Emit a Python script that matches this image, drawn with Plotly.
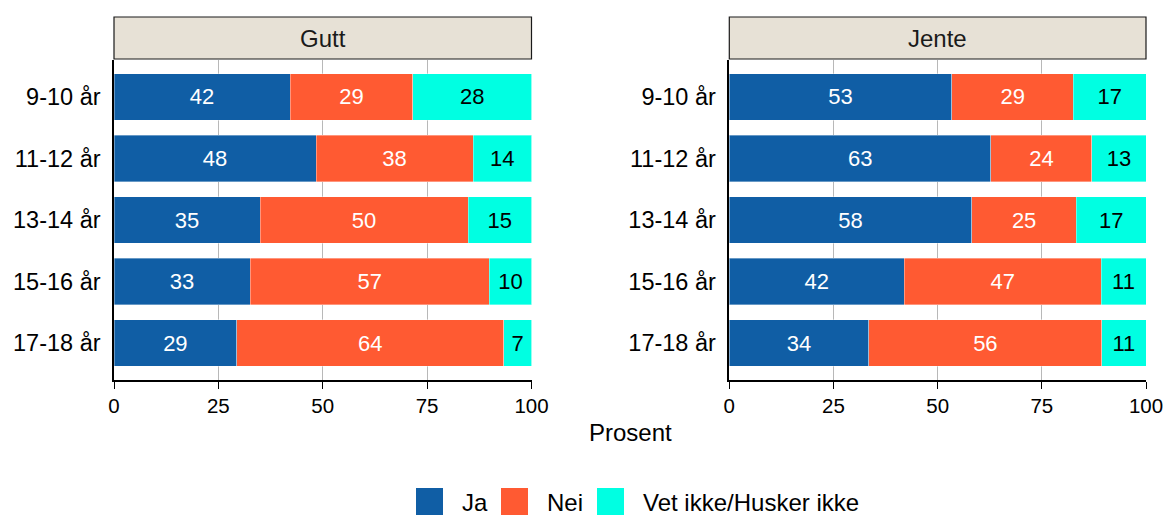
import plotly.graph_objects as go

W, H = 1167, 516

ages = ["9-10 år", "11-12 år", "13-14 år", "15-16 år", "17-18 år"]
answers = ["Ja", "Nei", "Vet ikke/Husker ikke"]
COLORS = {"Ja": "#105EA5", "Nei": "#FF5A32", "Vet ikke/Husker ikke": "#00FFE2"}
TEXT_COLORS = {"Ja": "white", "Nei": "white", "Vet ikke/Husker ikke": "black"}

gutt_ja = [42.2, 48.4, 35.0, 32.6, 29.4]
gutt_nei = [29.4, 37.6, 49.8, 57.3, 64.0]
gutt_vet = [28.4, 14.0, 15.2, 10.1, 6.6]

jente_ja = [53.4, 62.8, 58.2, 42.0, 33.5]
jente_nei = [29.2, 24.2, 25.1, 47.2, 55.9]
jente_vet = [17.4, 13.0, 16.7, 10.8, 10.6]

panels = [
    ("Gutt", [gutt_ja, gutt_nei, gutt_vet], "x", "y", (114 / W, 531.5 / W)),
    ("Jente", [jente_ja, jente_nei, jente_vet], "x2", "y2", (729.3 / W, 1146 / W)),
]

FONT = "Liberation Sans, Arial, sans-serif"
y_dom = (1 - 380 / H, 1 - 60 / H)

fig = go.Figure()
shapes = []
annotations = []

for title, series, xa, ya, dom in panels:
    for name, vals in zip(answers, series):
        fig.add_trace(go.Bar(
            x=vals, y=ages, orientation="h", name=name,
            xaxis=xa, yaxis=ya,
            marker=dict(color=COLORS[name], line=dict(width=0.6, color="rgba(255,255,255,0.6)")),
            width=0.76,
            texttemplate="%{x:.0f}", textposition="inside",
            insidetextanchor="middle", textangle=0,
            textfont=dict(color=TEXT_COLORS[name], size=22, family=FONT),
            showlegend=False, hoverinfo="skip",
        ))
    # strip header
    shapes.append(dict(type="rect", xref="paper", yref="paper",
                       x0=dom[0], x1=dom[1], y0=1 - 59 / H, y1=1 - 17 / H,
                       fillcolor="#E7E1D6", line=dict(color="#1a1a1a", width=1.2)))
    annotations.append(dict(text=title, xref="paper", yref="paper",
                            x=(dom[0] + dom[1]) / 2, y=1 - 38 / H, showarrow=False,
                            xanchor="center", yanchor="middle",
                            font=dict(size=24, family=FONT, color="#1a1a1a")))

axis_common = dict(
    range=[0, 100], tickvals=[0, 25, 50, 75, 100], ticks="outside", ticklen=7,
    tickcolor="black", tickwidth=1.2, showline=True, linecolor="black", linewidth=1.5,
    showgrid=True, gridcolor="#B8B8B8", gridwidth=1, zeroline=False, automargin=False,
    tickfont=dict(size=20.5, family=FONT, color="black"), fixedrange=True,
)
yaxis_common = dict(
    categoryorder="array", categoryarray=ages, range=[4.6, -0.6],
    showline=True, linecolor="black", linewidth=1.5, ticks="", showgrid=False,
    ticklabelstandoff=7, zeroline=False, automargin=False,
    tickfont=dict(size=23.5, family=FONT, color="black"), fixedrange=True,
)

fig.update_layout(
    template="none",
    width=W, height=H,
    margin=dict(l=0, r=0, t=0, b=0, pad=0),
    plot_bgcolor="white", paper_bgcolor="white",
    barmode="stack", bargap=0.24,
    font=dict(family=FONT, color="black"),
    xaxis=dict(domain=list(panels[0][4]), anchor="y", **axis_common),
    yaxis=dict(domain=list(y_dom), anchor="x", **yaxis_common),
    xaxis2=dict(domain=list(panels[1][4]), anchor="y2", **axis_common),
    yaxis2=dict(domain=list(y_dom), anchor="x2", **yaxis_common),
)

# axis title
annotations.append(dict(text="Prosent", xref="paper", yref="paper",
                        x=630 / W, y=1 - 432 / H, showarrow=False,
                        xanchor="center", yanchor="middle",
                        font=dict(size=24, family=FONT, color="black")))

# legend
legend_items = [(416, 460), (501, 545), (597, 641)]
for name, (sx, tx) in zip(answers, legend_items):
    shapes.append(dict(type="rect", xref="paper", yref="paper",
                       x0=sx / W, x1=(sx + 27) / W, y0=1 - 515 / H, y1=1 - 488 / H,
                       fillcolor=COLORS[name], line=dict(width=0)))
    annotations.append(dict(text=name, xref="paper", yref="paper",
                            x=tx / W, y=1 - 502 / H, showarrow=False,
                            xanchor="left", yanchor="middle",
                            font=dict(size=24, family=FONT, color="black")))

fig.update_layout(shapes=shapes, annotations=annotations)

fig.write_html(
    "out.html",
    config={"displayModeBar": False, "responsive": False},
    post_script="document.body.style.margin='0';document.body.style.overflow='hidden';",
)
